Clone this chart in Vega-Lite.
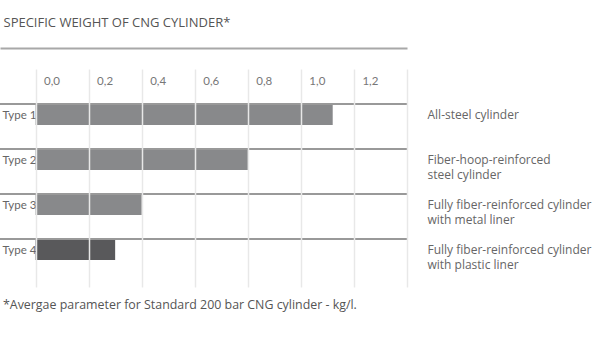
{
  "$schema": "https://vega.github.io/schema/vega-lite/v6.json",
  "width": 407,
  "height": 218,
  "autosize": "none",
  "padding": {"left": 0, "top": 69, "right": 193, "bottom": 53},
  "background": "white",
  "config": {"font": "Open Sans", "view": {"stroke": null}},
  "title": {
    "text": "*Avergae parameter for Standard 200 bar CNG cylinder - kg/l.",
    "orient": "bottom",
    "anchor": "start",
    "frame": "group",
    "fontSize": 12.4,
    "fontWeight": "normal",
    "color": "#555555",
    "dx": 3,
    "offset": 12,
    "baseline": "top"
  },
  "data": {
    "values": [
      {"type": "Type 1", "value": 1.12},
      {"type": "Type 2", "value": 0.8},
      {"type": "Type 3", "value": 0.4},
      {"type": "Type 4", "value": 0.3}
    ]
  },
  "resolve": {"axis": {"y": "independent"}},
  "layer": [
    {
      "mark": {"type": "bar"},
      "encoding": {
        "y": {
          "field": "type",
          "type": "nominal",
          "scale": {"paddingInner": 0.533, "paddingOuter": 0.689, "align": 0.565},
          "axis": {
            "orient": "left",
            "title": null,
            "domain": false,
            "ticks": false,
            "grid": false,
            "labelAlign": "left",
            "labelBaseline": "middle",
            "labelPadding": -2,
            "labelOffset": 1,
            "labelColor": "#666666",
            "labelFont": "Lato",
            "labelFontSize": 11.5
          }
        },
        "x": {
          "field": "value",
          "type": "quantitative",
          "scale": {"domain": [-0.134, 1.4], "nice": false, "zero": false},
          "axis": {
            "orient": "top",
            "offset": 21,
            "values": [0, 0.2, 0.4, 0.6, 0.8, 1.0, 1.2, 1.4],
            "format": ".1f",
            "labelExpr": "datum.value > 1.3 ? '' : replace(datum.label, '.', ',')",
            "domain": true,
            "domainColor": "#a8a8a8",
            "domainWidth": 2,
            "ticks": false,
            "grid": true,
            "gridColor": "#e8e8e8",
            "gridWidth": 1.5,
            "labelAlign": "left",
            "labelBaseline": "middle",
            "labelPadding": -33,
            "labelOffset": 8,
            "labelFlush": false,
            "labelOverlap": false,
            "labelColor": "#777777",
            "labelFont": "Lato",
            "labelFontSize": 11.5,
            "title": "SPECIFIC WEIGHT OF CNG CYLINDER*",
            "titleAnchor": "start",
            "titleAlign": "left",
            "titleX": 3,
            "titleY": -22,
            "titleBaseline": "alphabetic",
            "titleFontSize": 13,
            "titleFontWeight": "normal",
            "titleColor": "#555555",
            "zindex": 1
          }
        },
        "color": {
          "field": "type",
          "type": "nominal",
          "scale": {"domain": ["Type 1", "Type 2", "Type 3", "Type 4"], "range": ["#88898b", "#88898b", "#88898b", "#59595b"]},
          "legend": null
        }
      }
    },
    {
      "mark": {"type": "rule", "color": "#999999", "strokeWidth": 2},
      "encoding": {
        "y": {
          "field": "type",
          "type": "nominal",
          "bandPosition": 0,
          "axis": {
            "orient": "right",
            "title": null,
            "domain": false,
            "ticks": false,
            "grid": false,
            "labelAlign": "left",
            "labelBaseline": "alphabetic",
            "labelPadding": 20,
            "labelOffset": 4,
            "labelLineHeight": 15,
            "labelColor": "#666666",
            "labelFontSize": 12,
            "labelExpr": "datum.value == 'Type 1' ? 'All-steel cylinder' : datum.value == 'Type 2' ? ['Fiber-hoop-reinforced', 'steel cylinder'] : datum.value == 'Type 3' ? ['Fully fiber-reinforced cylinder', 'with metal liner'] : ['Fully fiber-reinforced cylinder', 'with plastic liner']"
          }
        }
      }
    }
  ]
}
